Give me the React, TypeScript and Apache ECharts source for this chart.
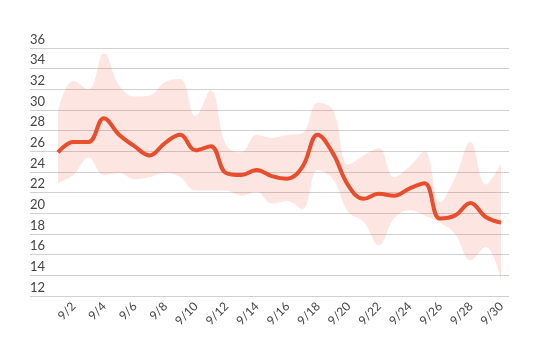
import React, { useEffect, useRef } from "react";
import * as echarts from "echarts";

const dates = ["9/1", "9/2", "9/3", "9/4", "9/5", "9/6", "9/7", "9/8", "9/9", "9/10", "9/11", "9/12", "9/13", "9/14", "9/15", "9/16", "9/17", "9/18", "9/19", "9/20", "9/21", "9/22", "9/23", "9/24", "9/25", "9/26", "9/27", "9/28", "9/29", "9/30"];
const avgTemp = [25.9, 26.9, 26.9, 29.2, 27.6, 26.5, 25.6, 26.8, 27.6, 26.1, 26.5, 23.9, 23.7, 24.2, 23.6, 23.35, 24.5, 27.6, 25.8, 22.7, 21.4, 21.9, 21.7, 22.4, 22.9, 19.5, 19.8, 21.0, 19.65, 19.1];
const maxTemp = [29.9, 32.8, 32.0, 35.5, 32.4, 31.3, 31.4, 32.7, 33.0, 29.4, 31.9, 26.6, 25.9, 27.6, 27.3, 27.6, 27.75, 30.7, 30.0, 24.7, 25.6, 26.3, 23.5, 24.5, 26.0, 21.1, 23.5, 26.9, 22.8, 24.8];
const minTemp = [22.9, 23.7, 25.4, 23.7, 23.9, 23.3, 23.5, 23.9, 23.5, 22.2, 22.2, 22.2, 21.7, 22.1, 20.95, 21.2, 20.4, 24.2, 23.3, 20.1, 19.2, 16.9, 19.5, 20.3, 19.8, 19.1, 18.0, 15.45, 16.75, 13.5];

export default function App() {
  const ref = useRef<HTMLDivElement>(null);
  useEffect(() => {
    if (!ref.current) return;
    const chart = echarts.init(ref.current, undefined, { renderer: "svg" });
    const font = "Lato, 'Open Sans', sans-serif";
    chart.setOption({
      animation: false,
      grid: [
        { left: 30, right: 41, top: 48, bottom: 66 },
        { left: 58, right: 49, top: 48, bottom: 66 },
      ],
      xAxis: [
        { type: "value", gridIndex: 0, show: false, min: 0, max: 1 },
        {
          type: "category",
          gridIndex: 1,
          data: dates,
          boundaryGap: false,
          splitLine: { show: false },
          axisLine: { show: false },
          axisTick: { show: false },
          axisLabel: {
            interval: (i: number) => i % 2 === 1,
            rotate: 45,
            margin: 8,
            fontSize: 12,
            color: "#444",
            fontFamily: font,
          },
        },
      ],
      yAxis: [
        {
          type: "value",
          gridIndex: 0,
          min: 12,
          max: 36,
          interval: 2,
          axisLine: { show: false },
          axisTick: { show: false },
          splitLine: { lineStyle: { color: "#d0d0d0", width: 1 } },
          axisLabel: {
            inside: true,
            margin: 0,
            verticalAlign: "bottom",
            padding: [0, 0, 3, 0],
            fontSize: 13,
            color: "#444",
            fontFamily: font,
          },
        },
        {
          type: "value",
          gridIndex: 1,
          min: 12,
          max: 36,
          interval: 2,
          show: false,
          splitLine: { show: false },
        },
      ],
      series: [
        {
          type: "line",
          xAxisIndex: 1,
          yAxisIndex: 1,
          data: minTemp,
          stack: "band",
          smooth: 0.4,
          symbol: "none",
          lineStyle: { opacity: 0 },
          silent: true,
        },
        {
          type: "line",
          xAxisIndex: 1,
          yAxisIndex: 1,
          data: maxTemp.map((v, i) => +(v - minTemp[i]).toFixed(2)),
          stack: "band",
          smooth: 0.4,
          symbol: "none",
          lineStyle: { opacity: 0 },
          areaStyle: { color: "rgba(238, 80, 50, 0.2)" },
          silent: true,
        },
        {
          type: "line",
          xAxisIndex: 1,
          yAxisIndex: 1,
          data: avgTemp,
          smooth: 0.4,
          symbol: "none",
          lineStyle: { color: "#e84e2c", width: 4 },
        },
      ],
    });
    return () => chart.dispose();
  }, []);
  return <div ref={ref} style={{ position: "fixed", left: 0, top: 0, width: 550, height: 362 }} />;
}
